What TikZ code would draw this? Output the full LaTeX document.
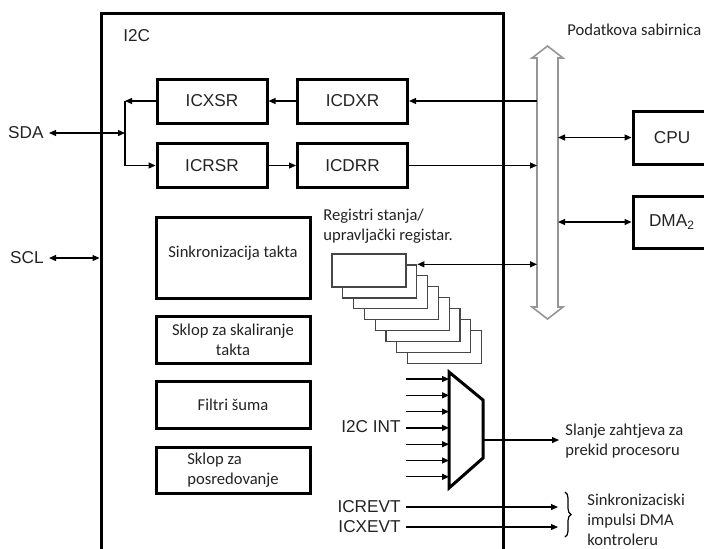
\documentclass[tikz,border=0pt]{standalone}
\usepackage{fontspec}
\setmainfont{Liberation Sans}
\newfontfamily\calfont{Carlito}
\usetikzlibrary{arrows.meta}
\usetikzlibrary{decorations.pathreplacing}
\definecolor{busgray}{RGB}{150,150,150}
\definecolor{regline}{RGB}{70,70,70}
\definecolor{txt}{RGB}{35,35,35}

\begin{document}
\begin{tikzpicture}[x=0.5pt,y=-0.5pt,
    >={Triangle[length=3.5pt,width=3pt]},
    every node/.style={text=txt},
    reg/.style={draw,line width=1.5pt,minimum width=55pt,minimum height=22pt,inner sep=0pt,font=\fontsize{8.6}{10}\selectfont},
    blk/.style={draw,line width=1.5pt,minimum width=77pt,inner sep=0pt,align=center,font=\calfont\fontsize{8.3}{10}\selectfont},
    note/.style={inner sep=0pt,align=left,font=\calfont\fontsize{8.3}{10}\selectfont},
    sig/.style={inner sep=2.5pt,font=\fontsize{8.6}{10}\selectfont},
    stackbox/.style={draw=regline,line width=0.6pt,fill=white,minimum width=37pt,minimum height=16.5pt,inner sep=0pt},
    wire/.style={line width=0.6pt}]
  \def\dx{10.8}
  \def\dy{10.9}
  \def\dk{16.3}
  \useasboundingbox (0,0) rectangle (704,548);

  %i2c frame
  \node[draw,line width=1.5pt,minimum width=201pt,minimum height=275pt,inner sep=0pt] (i2c) at (302,288) {};
  \node[sig,anchor=west,inner sep=0pt] (i2clbl) at (123,36) {I2C};

  %data bus
  \draw[busgray,line width=0.8pt,fill=white] (537,58) -- (532,58) -- (547.5,46) -- (563,58)
    -- (558,58) -- (558,307) -- (563,307) -- (547.5,319) -- (532,307) -- (537,307) -- cycle;
  \coordinate (busL) at (537,0);
  \coordinate (busR) at (558,0);
  \node[note,anchor=west] (bustxt) at (567,30) {Podatkova sabirnica};

  %shift registers
  \node[reg] (ICXSR) at (212,101) {ICXSR};
  \node[reg] (ICDXR) at (352.5,101) {ICDXR};
  \node[reg] (ICRSR) at (212,165.5) {ICRSR};
  \node[reg] (ICDRR) at (352.5,165.5) {ICDRR};
  \draw[wire,->] (ICDXR) -- (ICXSR);
  \draw[wire,->] (ICRSR) -- (ICDRR);
  \draw[wire,->] (ICDXR.east -| busL) -- (ICDXR.east);
  \draw[wire,->] (ICDRR.east) -- (ICDRR.east -| busL);

  %pins
  \coordinate (jct) at (125,133);
  \node[sig,anchor=east] (sda) at (49,133) {SDA};
  \node[sig,anchor=east] (scl) at (49,258) {SCL};
  \draw[wire,<->] (sda.east) -- (jct);
  \draw[wire,->] (ICXSR.west) -- (ICXSR.west -| jct);
  \draw[wire] (ICXSR.west -| jct) -- (ICRSR.west -| jct);
  \draw[wire,->] (ICRSR.west -| jct) -- (ICRSR.west);
  \draw[wire,<->] (scl.east) -- (scl.east -| i2c.west);

  %cpu, dma
  \node[reg,minimum width=39pt,minimum height=26.5pt] (cpu) at (672,137.5) {CPU};
  \node[reg,minimum width=39pt,minimum height=26pt] (dma) at (672,222) {DMA\textsubscript{2}};
  \draw[wire,<->] (cpu.west -| busR) -- (cpu.west);
  \draw[wire,<->] (dma.west -| busR) -- (dma.west);

  %inner blocks
  \node[blk,minimum height=40.5pt,text depth=6pt] (sink) at (233,257.5) {Sinkronizacija takta};
  \node[blk,minimum height=23.5pt] (skal) at (233,339.5) {Sklop za skaliranje\\takta};
  \node[blk,minimum height=23.5pt] (filt) at (233,404.5) {Filtri šuma};
  \node[blk,minimum height=23pt,align=left] (posr) at (233,470) {Sklop za\\posredovanje};

  %status/control registers
  \foreach \i in {7,...,0}
    \node[stackbox] (st\i) at ({369+\dx*\i},{270.5+\dy*\i}) {};
  \node[note,anchor=north west] (regtxt) at (323,209) {Registri stanja/\\upravljački registar.};
  \draw[wire,<->] (st1.north east) -- (st1.north east -| busL);

  %interrupt mux
  \coordinate (mxa) at (449,372);
  \coordinate (mxb) at (483,400);
  \coordinate (mxc) at (483,458);
  \coordinate (mxd) at (449,488);
  \coordinate (mxo) at (483,440);
  \draw[line width=1.5pt] (mxa) -- (mxb) -- (mxc) -- (mxd) -- cycle;
  \foreach \k in {0,...,6} {
    \coordinate (in\k) at (406,{379+\dk*\k});
    \draw[wire,->] (in\k) -- (in\k -| mxa);
  }
  \node[sig,anchor=east] (int) at (406,427) {I2C INT};
  \node[note,anchor=west,inner sep=3pt] (slanje) at (559,441) {Slanje zahtjeva za\\prekid procesoru};
  \draw[wire,->] (mxo) -- (mxo -| slanje.west);

  %dma events
  \node[sig,anchor=east] (icrevt) at (406,507) {ICREVT};
  \node[sig,anchor=east] (icxevt) at (406,527) {ICXEVT};
  \draw[wire,->] (icrevt.east) -- (icrevt.east -| busR);
  \draw[wire,->] (icxevt.east) -- (icxevt.east -| busR);
  \coordinate (brt) at (565,492);
  \coordinate (brb) at (565,537);
  \draw[wire,decorate,decoration={brace,amplitude=3pt}] (brt) -- (brb);
  \node[note,anchor=north west] (sinktxt) at (587,494) {Sinkronizaciski\\impulsi DMA\\kontroleru};
\end{tikzpicture}
\end{document}
